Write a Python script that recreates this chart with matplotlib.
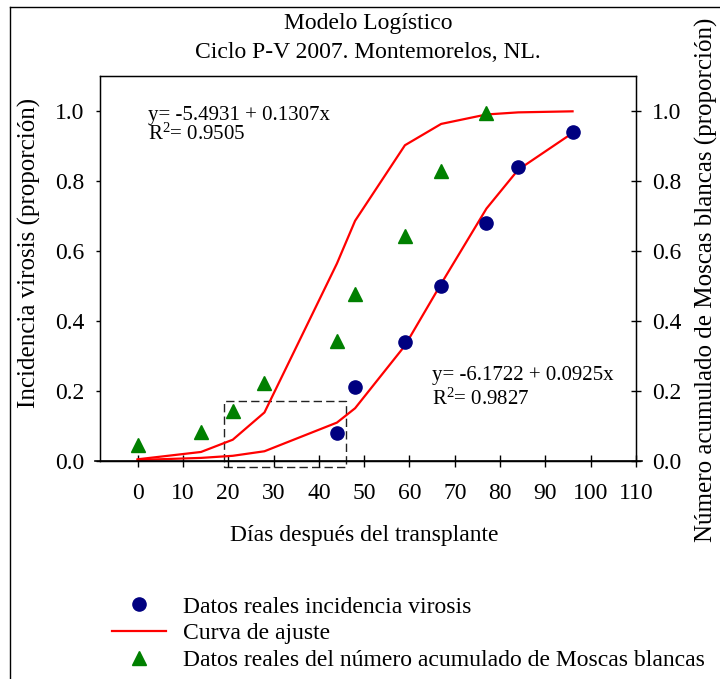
import matplotlib
matplotlib.use('Agg')
import matplotlib.pyplot as plt
from matplotlib.lines import Line2D
from matplotlib.patches import Rectangle

plt.rcParams['font.family'] = ['Liberation Serif', 'DejaVu Serif']
plt.rcParams['mathtext.fontset'] = 'custom'
plt.rcParams['mathtext.rm'] = 'Liberation Serif'
plt.rcParams['mathtext.default'] = 'regular'

# data
dias_virosis = [44, 48, 59, 67, 77, 84, 96]
incidencia_virosis = [0.08, 0.21, 0.34, 0.50, 0.68, 0.84, 0.94]

dias_moscas = [0, 14, 21, 28, 44, 48, 59, 67, 77]
moscas_acum = [0.045, 0.083, 0.143, 0.221, 0.343, 0.477, 0.643, 0.829, 0.993]

dias_curva = [0, 14, 21, 28, 44, 48, 59, 67, 77, 84, 96]
curva_moscas = [0.004, 0.025, 0.060, 0.138, 0.564, 0.686, 0.902, 0.963, 0.990, 0.996, 0.999]
curva_virosis = [0.002, 0.008, 0.014, 0.027, 0.109, 0.150, 0.329, 0.506, 0.721, 0.832, 0.937]

x_ticks = list(range(0, 111, 10))
y_ticks = [0.0, 0.2, 0.4, 0.6, 0.8, 1.0]

eq_moscas = ['y= -5.4931 + 0.1307x', 'R$^{2}$= 0.9505']
eq_virosis = ['y= -6.1722 + 0.0925x', 'R$^{2}$= 0.9827']

fs = 17
fs_lab = 18

fig = plt.figure(figsize=(7.2, 6.79), dpi=100)
ax = fig.add_axes([100/720, 1-460.7/679, 536/720, 384.7/679])

ax.plot(dias_curva, curva_moscas, color='#ff0000', lw=1.6, zorder=2)
ax.plot(dias_curva, curva_virosis, color='#ff0000', lw=1.6, zorder=2)
ax.plot(dias_virosis, incidencia_virosis, 'o', color='#000080', ms=9.5, zorder=3)
ax.plot(dias_moscas, moscas_acum, '^', color='#008000', ms=10, zorder=3)

# dashed box around the early points
ax.add_patch(Rectangle((19, -0.017), 27, 0.188, fill=False, ls=(0, (6, 3)),
                       lw=1, edgecolor='#222222', clip_on=False, zorder=1))

ax.set_xlim(-8.3, 110)
ax.set_ylim(0, 1.1)
ax.set_xticks(x_ticks)
ax.set_xticklabels([str(v) for v in x_ticks], fontsize=fs)
ax.set_yticks(y_ticks)
ax.set_yticklabels([f'{v:.1f}' for v in y_ticks], fontsize=fs)
ax.tick_params(axis='x', direction='inout', length=8, width=1, pad=12)
ax.tick_params(axis='y', direction='out', length=3, width=1, pad=8)
for s in ax.spines.values():
    s.set_linewidth(1)
# x axis line runs a little past the frame
ax.plot([-0.01, 1.012], [0, 0], color='black', lw=1.2, transform=ax.transAxes, clip_on=False)

ax2 = ax.twinx()
ax2.set_ylim(0, 1.1)
ax2.set_yticks(y_ticks)
ax2.set_yticklabels([f'{v:.1f}' for v in y_ticks], fontsize=fs)
ax2.tick_params(axis='y', direction='inout', length=7, width=1, pad=8)

ax.text(2.3, 0.986, eq_moscas[0], fontsize=15, va='center')
ax.text(2.3, 0.934, eq_moscas[1], fontsize=15, va='center')
ax.text(64.9, 0.244, eq_virosis[0], fontsize=15, va='center')
ax.text(64.9, 0.177, eq_virosis[1], fontsize=15, va='center')

fig.text(368/720, 1-24/679, 'Modelo Logístico', ha='center', va='center', fontsize=fs)
fig.text(368/720, 1-53/679, 'Ciclo P-V 2007. Montemorelos, NL.', ha='center', va='center', fontsize=fs)
fig.text(364/720, 1-535/679, 'Días después del transplante', ha='center', va='center', fontsize=fs)
fig.text(29/720, 1-253/679, 'Incidencia virosis (proporción)', ha='center', va='center',
         rotation=90, fontsize=fs_lab)
fig.text(706/720, 1-280/679, 'Número acumulado de Moscas blancas (proporción)', ha='center',
         va='center', rotation=90, fontsize=fs_lab)

handles = [
    Line2D([], [], marker='o', ls='none', color='#000080', ms=9.5),
    Line2D([], [], color='#ff0000', lw=1.6),
    Line2D([], [], marker='^', ls='none', color='#008000', ms=10),
]
labels = ['Datos reales incidencia virosis', 'Curva de ajuste',
          'Datos reales del número acumulado de Moscas blancas']
fig.legend(handles, labels, loc='upper left', bbox_to_anchor=(112/720, 1-596/679),
           frameon=False, fontsize=fs, handlelength=2.3, handletextpad=0.7,
           labelspacing=0.22, borderpad=0, borderaxespad=0)

# outer border of the figure
fig.add_artist(Line2D([10/720, 10/720], [0, 1-7/679], color='black', lw=1))
fig.add_artist(Line2D([10/720, 1], [1-7/679, 1-7/679], color='black', lw=1))

fig.savefig('out.png', dpi=100)
